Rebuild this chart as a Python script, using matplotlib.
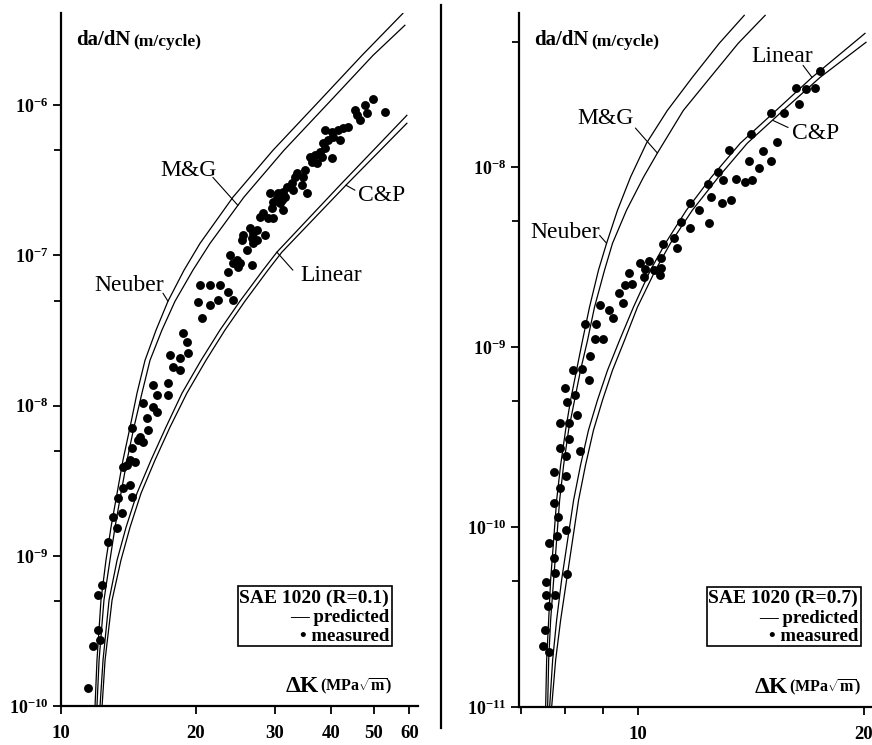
import numpy as np
import matplotlib.pyplot as plt
from matplotlib.ticker import FixedLocator, FuncFormatter, NullFormatter, NullLocator
from matplotlib.patches import Rectangle
from matplotlib.lines import Line2D

plt.rcParams['font.family'] = ['Liberation Serif', 'DejaVu Serif']
plt.rcParams['mathtext.fontset'] = 'custom'
plt.rcParams['mathtext.rm'] = 'Liberation Serif'
plt.rcParams['mathtext.bf'] = 'Liberation Serif:bold'
plt.rcParams['mathtext.it'] = 'Liberation Serif:italic'

# ---- SAE 1020, R = 0.1 ----
# predicted curves (dK in MPa*sqrt(m), da/dN in m/cycle)
neuber_dk_01 = [11.91, 12.03, 12.28, 12.60, 12.93, 13.34, 13.75, 14.26, 14.78, 15.40, 16.30, 17.33, 18.82, 20.43, 24.21, 29.73, 37.86, 46.98, 58.0]
neuber_da_01 = [1.0e-10, 2.02e-10, 5.07e-10, 9.36e-10, 1.55e-9, 2.61e-9, 4.33e-9, 7.18e-9, 1.21e-8, 2.00e-8, 3.18e-8, 4.95e-8, 7.96e-8, 1.20e-7, 2.44e-7, 5.00e-7, 1.076e-6, 2.14e-6, 4.08e-6]
mg_dk_01 = [12.03, 12.16, 12.47, 12.86, 13.20, 13.61, 14.04, 14.55, 15.16, 15.80, 16.80, 17.97, 19.70, 21.51, 25.61, 31.46, 40.07, 49.72, 58.6]
mg_da_01 = [1.0e-10, 2.02e-10, 5.07e-10, 9.36e-10, 1.55e-9, 2.61e-9, 4.33e-9, 7.18e-9, 1.21e-8, 2.00e-8, 3.18e-8, 4.95e-8, 7.96e-8, 1.20e-7, 2.44e-7, 5.00e-7, 1.076e-6, 2.14e-6, 3.40e-6]
linear_dk_01 = [12.22, 12.41, 12.80, 13.34, 13.97, 14.78, 15.88, 17.15, 18.63, 20.54, 22.64, 25.09, 28.24, 30.34, 41.96, 59.2]
linear_da_01 = [1.0e-10, 2.02e-10, 5.07e-10, 9.36e-10, 1.55e-9, 2.61e-9, 4.33e-9, 7.18e-9, 1.21e-8, 2.00e-8, 3.18e-8, 4.95e-8, 7.96e-8, 1.05e-7, 2.93e-7, 8.55e-7]
cp_dk_01 = [12.35, 12.54, 13.0, 13.61, 14.26, 15.09, 16.21, 17.51, 19.10, 21.07, 23.23, 25.74, 28.97, 31.13, 43.28, 59.2]
cp_da_01 = [1.0e-10, 2.02e-10, 5.07e-10, 9.36e-10, 1.55e-9, 2.61e-9, 4.33e-9, 7.18e-9, 1.21e-8, 2.00e-8, 3.18e-8, 4.95e-8, 7.96e-8, 1.05e-7, 2.93e-7, 7.57e-7]

# measured
meas_dk_01 = [49.7, 47.7, 52.8, 45.3, 45.78, 46.49, 48.19, 43.71, 42.61, 41.5, 40.27, 38.84,
              40.46, 39.45, 38.45, 41.96, 38.84, 37.86, 36.9, 35.96, 38.25, 40.27, 37.28, 36.33,
              35.04, 33.64, 34.67, 33.3, 32.79, 34.51, 31.95, 32.96, 31.29, 30.5, 35.4, 31.62,
              30.34, 31.13, 29.28, 29.73, 30.83, 31.29, 29.58, 28.24, 27.8, 28.97, 29.73, 26.42,
              27.38, 26.83, 25.47, 28.5, 26.69, 27.38, 25.35, 26.83, 26.0, 23.84, 24.71, 24.21,
              25.09, 24.83, 26.69, 23.6, 20.42, 21.51, 22.64, 23.6, 22.41, 21.51, 24.21, 20.22,
              20.64, 18.72, 19.10, 19.21, 17.51, 18.44, 17.78, 18.44, 16.04, 17.33, 16.38, 17.33,
              16.04, 16.38, 15.24, 15.56, 15.64, 14.41, 15.0, 14.86, 15.24, 14.41, 14.26, 14.63,
              13.75, 14.04, 13.75, 14.26, 14.41, 13.41, 13.68, 13.06, 13.34, 12.73, 12.35, 12.09,
              12.09, 11.79, 12.22, 11.49]
meas_da_01 = [1.093e-6, 9.97e-7, 8.96e-7, 9.23e-7, 8.55e-7, 7.92e-7, 8.82e-7, 7.12e-7, 7.01e-7, 6.80e-7, 6.59e-7, 6.80e-7,
              6.11e-7, 5.83e-7, 5.57e-7, 5.83e-7, 5.16e-7, 4.85e-7, 4.63e-7, 4.50e-7, 4.50e-7, 4.43e-7, 4.10e-7, 4.16e-7,
              3.68e-7, 3.52e-7, 3.31e-7, 3.31e-7, 3.02e-7, 2.93e-7, 2.84e-7, 2.71e-7, 2.63e-7, 2.59e-7, 2.59e-7, 2.44e-7,
              2.40e-7, 2.33e-7, 2.59e-7, 2.26e-7, 2.22e-7, 2.00e-7, 2.06e-7, 1.91e-7, 1.79e-7, 1.77e-7, 1.77e-7, 1.51e-7,
              1.47e-7, 1.40e-7, 1.36e-7, 1.36e-7, 1.30e-7, 1.26e-7, 1.26e-7, 1.20e-7, 1.08e-7, 1.00e-7, 9.28e-8, 8.86e-8,
              8.86e-8, 8.33e-8, 8.59e-8, 7.72e-8, 6.32e-8, 6.32e-8, 6.32e-8, 5.68e-8, 5.03e-8, 4.66e-8, 5.03e-8, 4.88e-8,
              3.82e-8, 3.03e-8, 2.64e-8, 2.23e-8, 2.16e-8, 2.07e-8, 1.80e-8, 1.72e-8, 1.37e-8, 1.41e-8, 1.17e-8, 1.17e-8,
              9.76e-9, 9.04e-9, 1.04e-8, 8.24e-9, 6.86e-9, 7.07e-9, 6.16e-9, 5.89e-9, 5.71e-9, 5.21e-9, 4.33e-9, 4.20e-9,
              3.89e-9, 4.01e-9, 2.82e-9, 2.95e-9, 2.46e-9, 2.42e-9, 1.92e-9, 1.81e-9, 1.53e-9, 1.23e-9, 6.38e-10, 5.48e-10,
              3.20e-10, 2.51e-10, 2.75e-10, 1.32e-10]

# ---- SAE 1020, R = 0.7 ----
neuber_dk_07 = [7.541, 7.564, 7.611, 7.657, 7.728, 7.799, 7.895, 8.016, 8.140, 8.290, 8.443, 8.626, 8.866, 9.089, 9.398, 9.779, 10.270, 10.950, 11.820, 12.838, 13.859]
neuber_da_07 = [1.0e-11, 1.82e-11, 3.04e-11, 5.08e-11, 8.47e-11, 1.41e-10, 2.21e-10, 3.46e-10, 5.08e-10, 7.45e-10, 1.09e-9, 1.67e-9, 2.68e-9, 3.78e-9, 5.77e-9, 8.80e-9, 1.36e-8, 2.07e-8, 3.16e-8, 4.89e-8, 6.99e-8]
mg_dk_07 = [7.587, 7.611, 7.657, 7.728, 7.799, 7.871, 7.968, 8.090, 8.240, 8.392, 8.573, 8.759, 9.032, 9.256, 9.661, 10.176, 10.621, 11.499, 12.490, 13.607, 14.775]
mg_da_07 = [1.0e-11, 1.82e-11, 3.04e-11, 5.08e-11, 8.47e-11, 1.41e-10, 2.21e-10, 3.46e-10, 5.08e-10, 7.45e-10, 1.09e-9, 1.67e-9, 2.68e-9, 3.78e-9, 5.77e-9, 8.80e-9, 1.20e-8, 2.07e-8, 3.16e-8, 4.89e-8, 6.99e-8]
linear_dk_07 = [7.634, 7.704, 7.799, 7.919, 8.066, 8.215, 8.392, 8.599, 8.839, 9.116, 9.456, 9.869, 10.396, 10.884, 11.606, 12.527, 13.690, 15.28, 17.06, 20.064]
linear_da_07 = [1.0e-11, 1.82e-11, 3.04e-11, 5.08e-11, 8.47e-11, 1.41e-10, 2.21e-10, 3.46e-10, 5.08e-10, 7.45e-10, 1.09e-9, 1.67e-9, 2.68e-9, 3.78e-9, 5.77e-9, 8.80e-9, 1.36e-8, 2.07e-8, 3.16e-8, 5.55e-8]
cp_dk_07 = [7.681, 7.775, 7.895, 8.041, 8.190, 8.341, 8.521, 8.732, 8.977, 9.256, 9.601, 9.991, 10.556, 11.052, 11.820, 12.799, 13.987, 15.613, 17.484, 20.126]
cp_da_07 = [1.0e-11, 1.82e-11, 3.04e-11, 5.08e-11, 8.47e-11, 1.41e-10, 2.21e-10, 3.46e-10, 5.08e-10, 7.45e-10, 1.09e-9, 1.67e-9, 2.68e-9, 3.78e-9, 5.77e-9, 8.80e-9, 1.36e-8, 2.07e-8, 3.16e-8, 4.95e-8]

meas_dk_07 = [17.48, 16.25, 16.75, 17.22, 16.40, 15.05, 15.66, 14.16, 15.33, 13.24, 14.69, 14.07,
              15.05, 14.51, 12.80, 13.0, 13.52, 13.90, 14.20, 12.41, 12.53, 12.96, 13.32, 11.75,
              12.08, 11.40, 12.45, 11.75, 11.19, 10.82, 11.29, 10.75, 10.08, 10.36, 10.21, 10.52,
              10.75, 10.69, 9.75, 10.18, 9.63, 9.84, 9.43, 9.57, 8.90, 9.17, 9.28, 8.52,
              8.79, 8.76, 9.0, 8.65, 8.21, 8.44, 8.60, 7.99, 8.26, 8.04, 8.29, 7.87,
              8.11, 8.11, 7.87, 8.02, 8.39, 7.73, 8.02, 7.89, 7.73, 7.82, 8.02, 7.80,
              7.61, 7.73, 7.77, 8.04, 7.54, 7.54, 7.75, 7.59, 7.52, 7.47, 7.61]
meas_da_07 = [3.415e-8, 2.75e-8, 2.71e-8, 2.75e-8, 2.24e-8, 2.00e-8, 2.00e-8, 1.53e-8, 1.39e-8, 1.24e-8, 1.23e-8, 1.09e-8,
              1.08e-8, 9.87e-9, 9.38e-9, 8.47e-9, 8.58e-9, 8.25e-9, 8.47e-9, 8.04e-9, 6.81e-9, 6.31e-9, 6.56e-9, 6.31e-9,
              5.77e-9, 4.95e-9, 4.89e-9, 4.58e-9, 4.03e-9, 3.73e-9, 3.55e-9, 3.12e-9, 2.93e-9, 3.00e-9, 2.71e-9, 2.68e-9,
              2.75e-9, 2.51e-9, 2.58e-9, 2.45e-9, 2.21e-9, 2.24e-9, 2.00e-9, 1.76e-9, 1.71e-9, 1.61e-9, 1.45e-9, 1.34e-9,
              1.34e-9, 1.11e-9, 1.11e-9, 8.91e-10, 7.45e-10, 7.55e-10, 6.56e-10, 5.92e-10, 5.41e-10, 4.95e-10, 4.19e-10, 3.78e-10,
              3.78e-10, 3.08e-10, 2.75e-10, 2.48e-10, 2.64e-10, 2.02e-10, 1.92e-10, 1.65e-10, 1.36e-10, 1.14e-10, 9.62e-11, 8.91e-11,
              8.15e-11, 6.73e-11, 5.55e-11, 5.48e-11, 4.95e-11, 4.19e-11, 4.19e-11, 3.64e-11, 2.68e-11, 2.18e-11, 2.02e-11]


def decade_label(v, pos):
    return r'$\mathbf{10^{%d}}$' % int(round(np.log10(v)))


def draw_panel(ax, curves, meas_dk, meas_da, xlim, ylim, x_major, x_minor, x_labels,
               decades, notes, r_text, legend_box):
    for dk, da in curves:
        ax.plot(dk, da, color='black', lw=0.9)
    ax.plot(meas_dk, meas_da, 'o', color='black', ms=6.4, mew=0)

    ax.set_xscale('log')
    ax.set_yscale('log')
    ax.set_xlim(*xlim)
    ax.set_ylim(*ylim)

    for side in ('top', 'right'):
        ax.spines[side].set_visible(False)
    for side in ('left', 'bottom'):
        ax.spines[side].set_linewidth(1.6)

    ax.xaxis.set_major_locator(FixedLocator(x_major))
    ax.xaxis.set_major_formatter(FuncFormatter(lambda v, p: x_labels.get(v, '')))
    if x_minor:
        ax.xaxis.set_minor_locator(FixedLocator(x_minor))
    else:
        ax.xaxis.set_minor_locator(NullLocator())
    ax.xaxis.set_minor_formatter(NullFormatter())

    # decades labelled, a short tick at 5 x 10^n
    y_major = [10.0 ** e for e in decades]
    y_minor = [5 * 10.0 ** e for e in decades if 5 * 10.0 ** e < ylim[1]]
    ax.yaxis.set_major_locator(FixedLocator(y_major))
    ax.yaxis.set_minor_locator(FixedLocator(y_minor))
    ax.yaxis.set_major_formatter(FuncFormatter(decade_label))
    ax.yaxis.set_minor_formatter(NullFormatter())

    ax.tick_params(axis='both', which='both', direction='out', width=1.3, color='black')
    ax.tick_params(axis='both', which='major', length=6)
    ax.tick_params(axis='both', which='minor', length=5)
    ax.tick_params(axis='x', labelsize=13.5, pad=8)
    ax.tick_params(axis='y', labelsize=13, pad=3)
    for lab in ax.get_xticklabels():
        lab.set_fontweight('bold')

    # curve names with short leader lines
    for name, xy, lead, txt in notes:
        ax.annotate('', xy=xy, xytext=lead, textcoords='offset pixels',
                    arrowprops=dict(arrowstyle='-', lw=0.8, color='black',
                                    shrinkA=0, shrinkB=0))
        ax.annotate(name, xy=xy, xytext=txt, textcoords='offset pixels',
                    ha='center', va='center', fontsize=17)

    # axis titles inside the frame
    t1 = ax.text(0.042, 0.961, 'da/dN', transform=ax.transAxes, fontsize=15,
                 fontweight='bold', ha='left', va='center')
    ax.annotate('(m/cycle)', xy=(1, 0), xycoords=t1, xytext=(2, 0),
                textcoords='offset points', fontsize=12.5, fontweight='bold',
                ha='left', va='bottom')

    x0, x1, y0, y1 = legend_box
    t2 = ax.text(x1, 0.028, r'(MPa$\sqrt{\mathbf{m}}$)', transform=ax.transAxes,
                 fontsize=11.5, fontweight='bold', ha='right', va='center')
    ax.annotate('ΔK', xy=(0, 0), xycoords=t2, xytext=(-1, 0),
                textcoords='offset points', fontsize=17, fontweight='bold',
                ha='right', va='bottom')

    # key box
    ax.add_patch(Rectangle((x0, y0), x1 - x0, y1 - y0, transform=ax.transAxes,
                           fill=False, lw=1.2, ec='black', clip_on=False))
    tx = x1 - 0.008
    ax.text(tx, y0 + 0.80 * (y1 - y0), 'SAE 1020 (R=%s)' % r_text, transform=ax.transAxes,
            fontsize=14, fontweight='bold', ha='right', va='center')
    ax.text(tx, y0 + 0.47 * (y1 - y0), '— predicted', transform=ax.transAxes,
            fontsize=13.5, fontweight='bold', ha='right', va='center')
    ax.text(tx, y0 + 0.16 * (y1 - y0), '• measured', transform=ax.transAxes,
            fontsize=13.5, fontweight='bold', ha='right', va='center')


fig = plt.figure(figsize=(8.72, 7.45), dpi=100)
ax1 = fig.add_axes([0.0700, 0.0523, 0.4094, 0.9302])
ax2 = fig.add_axes([0.5952, 0.0510, 0.4048, 0.9315])

draw_panel(
    ax1,
    [(neuber_dk_01, neuber_da_01), (mg_dk_01, mg_da_01),
     (linear_dk_01, linear_da_01), (cp_dk_01, cp_da_01)],
    meas_dk_01, meas_da_01,
    xlim=(10, 62.7), ylim=(1e-10, 4.1e-6),
    x_major=[10, 20, 30, 40, 50, 60], x_minor=None,
    x_labels={10: '10', 20: '20', 30: '30', 40: '40', 50: '50', 60: '60'},
    decades=[-10, -9, -8, -7, -6],
    notes=[('M&G', (24.83, 2.15e-7), (-25, 28), (-49, 35)),
           ('Neuber', (17.33, 4.95e-8), (-5, 8), (-39, 16)),
           ('C&P', (43.28, 2.93e-7), (9, -5), (36, -10)),
           ('Linear', (30.34, 1.05e-7), (16, -18), (54, -23))],
    r_text='0.1',
    legend_box=(0.496, 0.927, 0.0866, 0.173),
)

draw_panel(
    ax2,
    [(neuber_dk_07, neuber_da_07), (mg_dk_07, mg_da_07),
     (linear_dk_07, linear_da_07), (cp_dk_07, cp_da_07)],
    meas_dk_07, meas_da_07,
    xlim=(6.95, 20.5), ylim=(1e-11, 7.2e-8),
    x_major=[10, 20], x_minor=[7, 8, 9],
    x_labels={10: '10', 20: '20'},
    decades=[-11, -10, -9, -8],
    notes=[('M&G', (10.621, 1.20e-8), (-22, 25), (-52, 35)),
           ('Neuber', (9.089, 3.78e-9), (-7, 8), (-41, 11)),
           ('Linear', (17.06, 3.16e-8), (-9, 12), (-30, 21)),
           ('C&P', (15.14, 1.82e-8), (15, -7), (43, -13))],
    r_text='0.7',
    legend_box=(0.533, 0.969, 0.088, 0.173),
)

# divider between the two panels
fig.add_artist(Line2D([0.5057, 0.5057], [0.0228, 0.993], transform=fig.transFigure,
                      color='black', lw=1.6))

fig.savefig('out.png', dpi=100)
